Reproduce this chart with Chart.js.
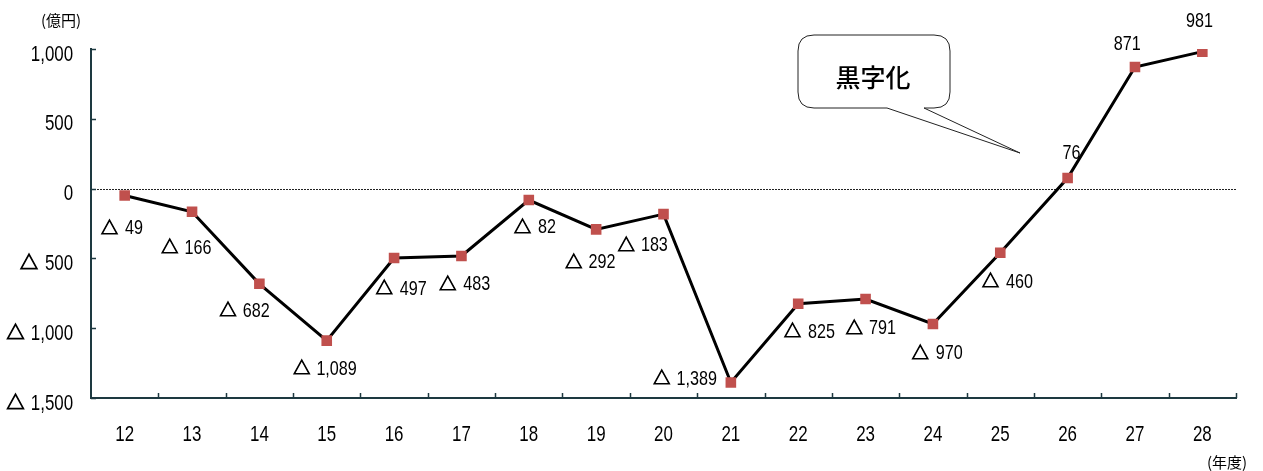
<!DOCTYPE html>
<html>
<head>
<meta charset="utf-8">
<script src="https://cdn.jsdelivr.net/npm/chart.js@4/dist/chart.umd.min.js"></script>
<style>
    html, body { margin: 0; padding: 0; background: #fff; }
    #wrap { width: 1263px; height: 471px; position: relative; }
</style>
</head>
<body>
<div id="wrap"><canvas id="chart"></canvas></div>
<script>
// 年度ごとの収支（億円）
const years = ['12', '13', '14', '15', '16', '17', '18', '19', '20', '21', '22', '23', '24', '25', '26', '27', '28'];
const balance = [-49, -166, -682, -1089, -497, -483, -82, -292, -183, -1389, -825, -791, -970, -460, 76, 871, 981];
const yTickValues = [1000, 500, 0, -500, -1000, -1500];

const NUM_FONT = '"Liberation Sans", Arial, sans-serif';
const JP_FONT = '"Noto Sans CJK JP", sans-serif';
const AXIS_COLOR = '#1d3940';
const NARROW = 0.77;

// ラベルの位置（点からのずれ）
const labelOffsets = [
    [-3, 32], [-6, 35], [-15, 26], [-2, 27], [7, 30], [3, 27], [6, 26], [-6, 32], [-21, 30],
    [-46, -5], [11, 27], [5, 28], [4, 28], [7, 28], [4, -26], [-8, -24], [-3, -32]
];

// 細字の数字＋和文フォントの「△」
const drawValue = (ctx, v, ax, cy, align, size) => {
    const num = Math.abs(v).toLocaleString('en-US');
    ctx.textAlign = 'left';
    ctx.textBaseline = 'alphabetic';
    ctx.font = size + 'px ' + NUM_FONT;
    const m = ctx.measureText(num);
    const numW = (m.actualBoundingBoxLeft + m.actualBoundingBoxRight) * NARROW;
    const digitH = m.actualBoundingBoxAscent;
    const base = cy + digitH / 2;

    let triW = 0, tm = null;
    const gap = 7;
    const triFont = (size - 4) + 'px ' + JP_FONT;
    if (v < 0) {
        ctx.font = triFont;
        tm = ctx.measureText('△');
        triW = tm.actualBoundingBoxLeft + tm.actualBoundingBoxRight;
    }
    const total = numW + (v < 0 ? triW + gap : 0);
    let left = align === 'right' ? ax - total : ax - total / 2;
    if (v < 0) {
        ctx.font = triFont;
        const tx = left + tm.actualBoundingBoxLeft;
        const ty = base - tm.actualBoundingBoxDescent - 0.5;
        ctx.fillText('△', tx, ty);
        ctx.strokeStyle = '#000';
        ctx.lineWidth = 1;
        ctx.strokeText('△', tx, ty);
        left += triW + gap;
    }
    ctx.font = size + 'px ' + NUM_FONT;
    ctx.save();
    ctx.translate(left, base);
    ctx.scale(NARROW, 1);
    ctx.fillText(num, m.actualBoundingBoxLeft, 0);
    ctx.restore();
};

const decor = {
    id: 'decor',
    beforeDatasetsDraw: (chart) => {
        const { ctx, chartArea, scales } = chart;
        const x = scales.x, y = scales.y;
        ctx.save();
        // ゼロ線（点線）
        const y0 = Math.round(y.getPixelForValue(0)) + 0.5;
        ctx.strokeStyle = '#222';
        ctx.lineWidth = 1;
        ctx.setLineDash([2, 1]);
        ctx.beginPath();
        ctx.moveTo(chartArea.left, y0);
        ctx.lineTo(chartArea.right, y0);
        ctx.stroke();
        ctx.setLineDash([]);

        // 目盛り（内向き）
        ctx.strokeStyle = AXIS_COLOR;
        ctx.lineWidth = 1.5;
        ctx.beginPath();
        yTickValues.forEach(v => {
            const py = Math.round(y.getPixelForValue(v)) + 0.5;
            ctx.moveTo(chartArea.left, py);
            ctx.lineTo(chartArea.left + 5, py);
        });
        const step = (chartArea.right - chartArea.left) / years.length;
        for (let i = 1; i <= years.length; i++) {
            const px = Math.round(chartArea.left + step * i) + 0.5;
            ctx.moveTo(px, chartArea.bottom);
            ctx.lineTo(px, chartArea.bottom - 5);
        }
        ctx.stroke();

        // 目盛りラベル
        ctx.fillStyle = '#000';
        yTickValues.forEach(v => {
            drawValue(ctx, v, chartArea.left - 18, y.getPixelForValue(v) + 4, 'right', 22);
        });
        years.forEach((label, i) => {
            ctx.font = '22px ' + NUM_FONT;
            ctx.textAlign = 'center';
            ctx.textBaseline = 'alphabetic';
            ctx.save();
            ctx.translate(x.getPixelForValue(i), chartArea.bottom + 43);
            ctx.scale(NARROW, 1);
            ctx.fillText(label, 0, 0);
            ctx.restore();
        });
        ctx.restore();
    },
    afterDraw: (chart) => {
        const { ctx } = chart;
        const meta = chart.getDatasetMeta(0);
        ctx.save();

        // データラベル
        ctx.fillStyle = '#000';
        meta.data.forEach((pt, i) => {
            const [dx, dy] = labelOffsets[i];
            drawValue(ctx, balance[i], pt.x + dx, pt.y + dy, 'center', 21);
        });

        // 単位
        ctx.textAlign = 'center';
        ctx.textBaseline = 'middle';
        ctx.font = '15px ' + JP_FONT;
        ctx.fillText('(億円)', 61, 20);
        ctx.fillText('(年度)', 1227, 462);

        // 吹き出し「黒字化」
        const bx = 798, by = 35, bw = 152, bh = 73, r = 16;
        ctx.beginPath();
        ctx.moveTo(bx + r, by);
        ctx.lineTo(bx + bw - r, by);
        ctx.quadraticCurveTo(bx + bw, by, bx + bw, by + r);
        ctx.lineTo(bx + bw, by + bh - r);
        ctx.quadraticCurveTo(bx + bw, by + bh, bx + bw - r, by + bh);
        ctx.lineTo(924, by + bh);
        ctx.lineTo(1020, 153);
        ctx.lineTo(887, by + bh);
        ctx.lineTo(bx + r, by + bh);
        ctx.quadraticCurveTo(bx, by + bh, bx, by + bh - r);
        ctx.lineTo(bx, by + r);
        ctx.quadraticCurveTo(bx, by, bx + r, by);
        ctx.closePath();
        ctx.fillStyle = '#fff';
        ctx.fill();
        ctx.strokeStyle = '#222';
        ctx.lineWidth = 1;
        ctx.stroke();

        ctx.fillStyle = '#000';
        ctx.font = '500 25px ' + JP_FONT;
        ctx.fillText('黒字化', 873, 77);
        ctx.restore();
    }
};

const config = {
    type: 'line',
    data: {
        labels: years,
        datasets: [{
            data: balance,
            borderColor: '#000',
            borderWidth: 3,
            tension: 0,
            pointStyle: 'rect',
            pointRadius: 7.5,
            pointBackgroundColor: '#c0504d',
            pointBorderColor: '#c0504d',
            pointBorderWidth: 0
        }]
    },
    options: {
        responsive: true,
        maintainAspectRatio: false,
        animation: false,
        layout: {
            padding: { top: 49, right: 27, bottom: 0, left: 0 }
        },
        plugins: {
            legend: { display: false },
            tooltip: { enabled: false }
        },
        scales: {
            x: {
                offset: true,
                grid: { display: false, drawTicks: false },
                border: { color: AXIS_COLOR, width: 2 },
                ticks: { display: false },
                afterFit: (s) => { s.height = 73; }
            },
            y: {
                min: -1500,
                max: 1000,
                grid: { display: false, drawTicks: false },
                border: { color: AXIS_COLOR, width: 2 },
                afterBuildTicks: (s) => { s.ticks = yTickValues.map(v => ({ value: v })); },
                ticks: { display: false },
                afterFit: (s) => { s.width = 91; }
            }
        }
    },
    plugins: [decor]
};

new Chart(document.getElementById('chart'), config);
</script>
</body>
</html>
